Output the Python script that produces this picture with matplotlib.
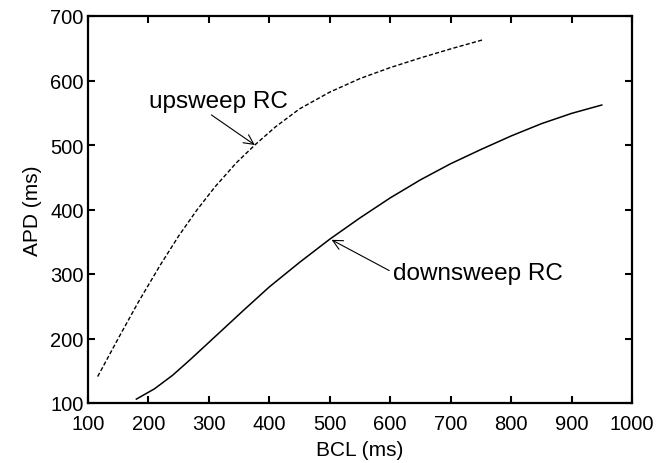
import matplotlib
matplotlib.use("Agg")
import matplotlib.pyplot as plt

# Data
upBCL = [116, 150, 183, 219, 250, 280, 310, 345, 376, 410, 450, 500,
         550, 600, 650, 700, 753]
upAPD = [141, 200, 256, 313, 359, 399, 435, 472, 500, 528, 556, 582,
         603, 620, 635, 649, 663]

downBCL = [180, 210, 240, 270, 300, 330, 360, 400, 450, 500, 550, 600,
           650, 700, 750, 800, 850, 900, 950]
downAPD = [106, 122, 143, 168, 194, 220, 246, 280, 318, 354, 387, 418,
           446, 471, 493, 514, 533, 549, 562]

xTicks = [100, 200, 300, 400, 500, 600, 700, 800, 900, 1000]
yTicks = [100, 200, 300, 400, 500, 600, 700]

plt.rcParams["font.family"] = ["Liberation Sans", "DejaVu Sans"]

fig = plt.figure(figsize=(6.57, 4.64), dpi=100)
ax = fig.add_axes([88 / 657, 60 / 464, 544 / 657, 387 / 464])

# Curves
ax.plot(upBCL, upAPD, color="black", linewidth=1.0, linestyle=(0, (3, 1.6)))
ax.plot(downBCL, downAPD, color="black", linewidth=1.1)

# Annotations
ax.annotate("upsweep RC", xy=(376, 500), xytext=(201, 568),
            fontsize=17.5, va="center", ha="left",
            arrowprops=dict(arrowstyle="->", color="black", lw=0.8,
                            shrinkA=0, shrinkB=0, relpos=(0.42, 0.0)))
ax.annotate("downsweep RC", xy=(503, 353), xytext=(605, 302),
            fontsize=17.5, va="center", ha="left",
            arrowprops=dict(arrowstyle="->", color="black", lw=0.8,
                            shrinkA=1, shrinkB=0, relpos=(0.0, 0.5)))

# Axes settings
ax.set_xlim(100, 1000)
ax.set_ylim(100, 700)
ax.set_xticks(xTicks)
ax.set_yticks(yTicks)
ax.set_xlabel("BCL (ms)", fontsize=15, labelpad=5)
ax.set_ylabel("APD (ms)", fontsize=15, labelpad=6)
ax.tick_params(direction="in", length=5, width=1.5, labelsize=14.5,
               top=True, right=True, pad=3)
ax.tick_params(axis="x", pad=8)
for spine in ax.spines.values():
    spine.set_linewidth(1.6)

fig.savefig("out.png", dpi=100)
